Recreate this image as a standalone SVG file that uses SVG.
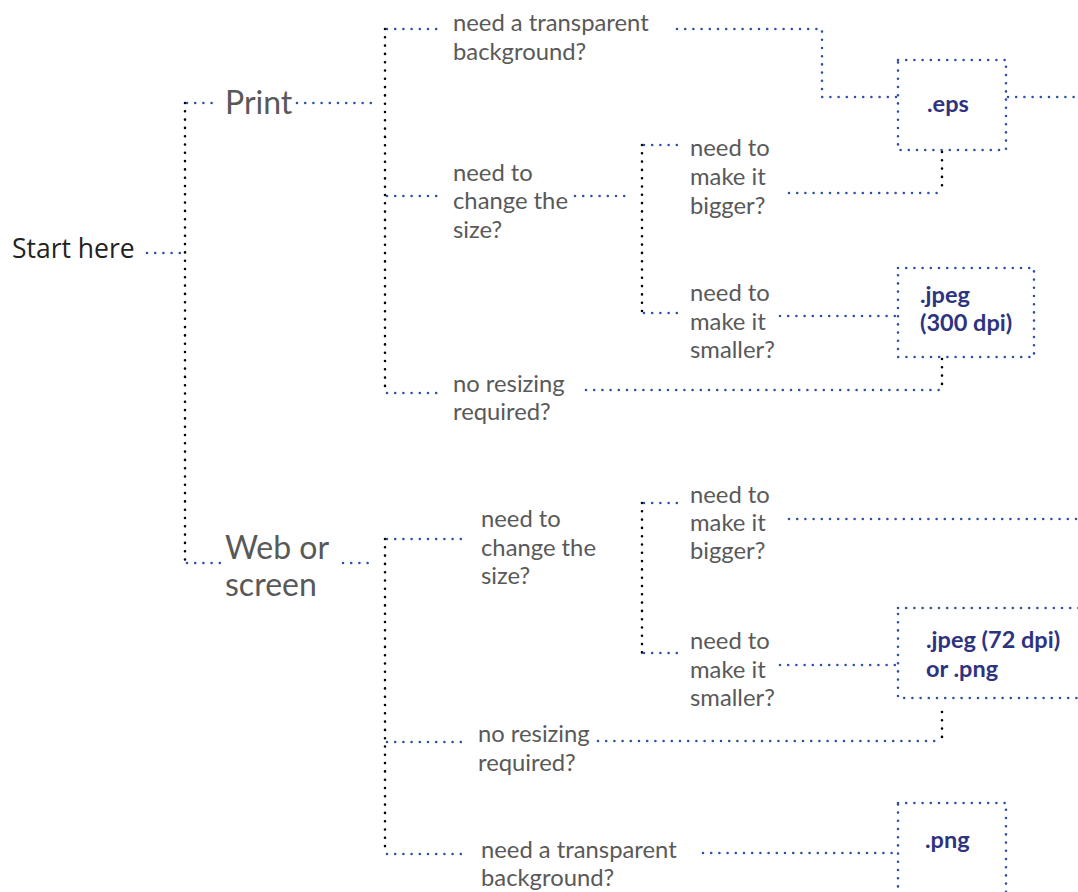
<svg xmlns="http://www.w3.org/2000/svg" width="1078" height="892" viewBox="0 0 1078 892">
<style>
.b{fill:none;stroke:#2f51a3;stroke-width:2.6;stroke-linecap:round;stroke-dasharray:0 8.2}
.k{fill:none;stroke:#000;stroke-width:2.6;stroke-linecap:round;stroke-dasharray:0 8.3}
.t{font-family:Lato,"Open Sans","Liberation Sans",sans-serif;font-size:23.8px;fill:#595959}
.big{font-family:Lato,"Open Sans","Liberation Sans",sans-serif;font-size:32px;fill:#595959}
.start{font-family:"Open Sans",Lato,"Liberation Sans",sans-serif;font-size:26.5px;fill:#222}
.r{font-family:Lato,"Open Sans","Liberation Sans",sans-serif;font-size:23.5px;font-weight:bold;fill:#2e3380}
</style>
<rect width="1078" height="892" fill="#fff"/>
<g id="connectors">
<path class="b" d="M147 253H183"/>
<path class="k" d="M185 103V563"/>
<path class="b" d="M187 103H218"/>
<path class="b" d="M297 103H377"/>
<path class="k" d="M385 29V393"/>
<path class="b" d="M387 29H443"/>
<path class="b" d="M677 29H822V97H897"/>
<path class="b" d="M1008 97H1078"/>
<path class="b" d="M387 196H443"/>
<path class="b" d="M575 196H632"/>
<path class="k" d="M642 145V313"/>
<path class="b" d="M644 145H678"/>
<path class="b" d="M789 193H940"/>
<path class="k" d="M942 152V193"/>
<path class="b" d="M644 313H678"/>
<path class="b" d="M780 316H897"/>
<path class="k" d="M942 359V390"/>
<path class="b" d="M586 390H940"/>
<path class="b" d="M387 393H443"/>
<path class="b" d="M187 563H225"/>
<path class="b" d="M343 563H375"/>
<path class="k" d="M385 539V853"/>
<path class="b" d="M387 539H463"/>
<path class="k" d="M642 503V653"/>
<path class="b" d="M644 503H678"/>
<path class="b" d="M789 519H1078"/>
<path class="b" d="M644 653H678"/>
<path class="b" d="M780 665H897"/>
<path class="k" d="M942 712V741"/>
<path class="b" d="M598 741H940"/>
<path class="b" d="M387 742H463"/>
<path class="b" d="M387 854H463"/>
<path class="b" d="M703 853H897"/>
</g>
<g id="start"><text class="start" x="12" y="258">Start here</text></g>
<g id="print"><text class="big" x="225" y="114">Print</text></g>
<g id="web"><text class="big" x="225" y="559">Web or</text><text class="big" x="225" y="596">screen</text></g>
<g id="p-transparent"><text class="t" x="453" y="31">need a transparent</text><text class="t" x="453" y="60">background?</text></g>
<g id="p-size"><text class="t" x="453" y="181">need to</text><text class="t" x="453" y="209">change the</text><text class="t" x="453" y="238">size?</text></g>
<g id="p-bigger"><text class="t" x="690" y="156">need to</text><text class="t" x="690" y="185">make it</text><text class="t" x="690" y="214">bigger?</text></g>
<g id="p-smaller"><text class="t" x="690" y="301">need to</text><text class="t" x="690" y="330">make it</text><text class="t" x="690" y="358">smaller?</text></g>
<g id="p-noresize"><text class="t" x="453" y="392">no resizing</text><text class="t" x="453" y="420">required?</text></g>
<g id="eps"><rect class="b" x="898" y="60" width="108" height="90"/><text class="r" x="927" y="112">.eps</text></g>
<g id="jpeg300"><rect class="b" x="898" y="268" width="136" height="89"/><text class="r" x="920" y="303">.jpeg</text><text class="r" x="920" y="331">(300 dpi)</text></g>
<g id="w-size"><text class="t" x="481" y="527">need to</text><text class="t" x="481" y="556">change the</text><text class="t" x="481" y="584">size?</text></g>
<g id="w-bigger"><text class="t" x="690" y="503">need to</text><text class="t" x="690" y="531">make it</text><text class="t" x="690" y="559">bigger?</text></g>
<g id="w-smaller"><text class="t" x="690" y="649">need to</text><text class="t" x="690" y="678">make it</text><text class="t" x="690" y="706">smaller?</text></g>
<g id="w-noresize"><text class="t" x="478" y="742">no resizing</text><text class="t" x="478" y="771">required?</text></g>
<g id="w-transparent"><text class="t" x="481" y="858">need a transparent</text><text class="t" x="481" y="886">background?</text></g>
<g id="jpeg72"><rect class="b" x="898" y="608" width="200" height="90"/><text class="r" x="926" y="648">.jpeg (72 dpi)</text><text class="r" x="926" y="677">or .png</text></g>
<g id="png"><rect class="b" x="898" y="803" width="108" height="110"/><text class="r" x="925" y="848">.png</text></g>
</svg>
